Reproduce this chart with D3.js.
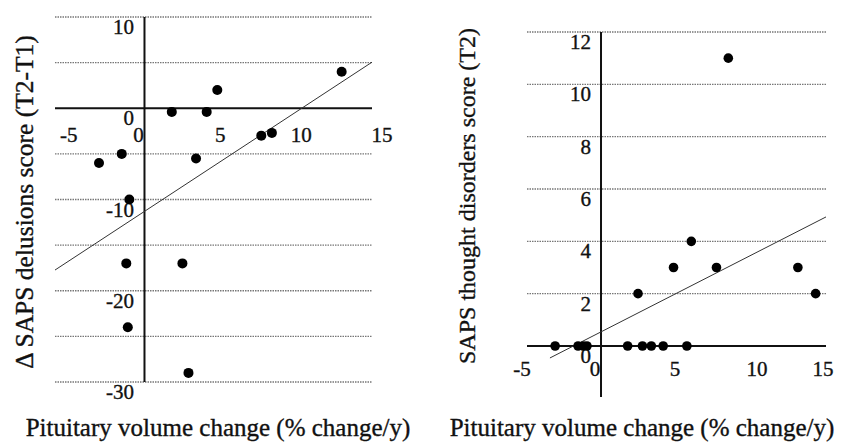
<!DOCTYPE html>
<html>
<head>
<meta charset="utf-8">
<script src="https://cdn.jsdelivr.net/npm/d3@7"></script>
<style>
  body { margin: 0; background: #fff; }
  text { font-family: "Liberation Serif", "DejaVu Serif", serif; fill: #111; stroke: #111; stroke-width: 0.35px; }
</style>
</head>
<body>
<script>
// left panel: change in delusions score
var leftX = [13.0, 4.8, 1.8, 4.1, 7.7, 8.4, 3.4, -1.5, -3.0, -1.0, -1.2, 2.5, -1.1, 2.9];
var leftY = [4, 2, -0.4, -0.4, -3, -2.7, -5.5, -5, -6, -10, -17, -17, -24, -29];
var leftFit = [-11.3, 1.09]; // intercept, slope
var leftGrid = [10, 5, -5, -10, -15, -20, -25, -30];
var leftYTicks = [10, 0, -10, -20, -30];

// right panel: thought disorders score
var rightX = [8.6, 6.1, 4.9, 7.8, 13.3, 2.5, 14.5, -3.1, -1.55, -1.2, -0.95, 1.8, 2.8, 3.4, 4.2, 5.8];
var rightY = [11, 4, 3, 3, 3, 2, 2, 0, 0, 0, 0, 0, 0, 0, 0, 0];
var rightFit = [0.54, 0.289];
var rightGrid = [12, 10, 8, 6, 4, 2];
var rightYTicks = [12, 10, 8, 6, 4, 2, 0];

var xTicks = [-5, 0, 5, 10, 15];

var w = 842, h = 447;

var svg = d3.select("body")
    .append("svg")
    .attr("width", w)
    .attr("height", h);

function panel(opt) {
    var g = svg.append("g");
    var x = d3.scaleLinear().domain(opt.xdom).range(opt.xr);
    var y = d3.scaleLinear().domain(opt.ydom).range(opt.yr);

    // gridlines
    g.selectAll("line.grid")
        .data(opt.grid)
        .enter()
        .append("line")
        .attr("class", "grid")
        .attr("x1", opt.xr[0])
        .attr("x2", opt.xr[1])
        .attr("y1", function(d) { return y(d); })
        .attr("y2", function(d) { return y(d); })
        .attr("stroke", "#777")
        .attr("stroke-width", 1.4)
        .attr("stroke-dasharray", "1.5,1");

    // x axis (at y = 0)
    g.append("line")
        .attr("x1", opt.xr[0]).attr("x2", opt.xr[1])
        .attr("y1", y(0)).attr("y2", y(0))
        .attr("stroke", "#111").attr("stroke-width", 2);

    // y axis (at x = 0)
    g.append("line")
        .attr("x1", x(0)).attr("x2", x(0))
        .attr("y1", opt.yr[1]).attr("y2", y(opt.yAxisEnd))
        .attr("stroke", "#111").attr("stroke-width", 2);

    // y tick labels
    g.selectAll("text.yt")
        .data(opt.yticks)
        .enter()
        .append("text")
        .attr("class", "yt")
        .attr("text-anchor", "end")
        .attr("font-size", "21px")
        .attr("x", opt.yLabelX)
        .attr("y", function(d) { return y(d) + 17; })
        .text(function(d) { return d; });

    // x tick labels
    g.selectAll("text.xt")
        .data(xTicks)
        .enter()
        .append("text")
        .attr("class", "xt")
        .attr("text-anchor", "middle")
        .attr("font-size", "21px")
        .attr("x", function(d) { return d === 0 ? x(d) - 6 : x(d) + opt.xLabelShift(d); })
        .attr("y", y(0) + opt.xLabelDy)
        .text(function(d) { return d; });

    // regression line
    var fit = opt.fit;
    g.append("line")
        .attr("x1", x(opt.fitFrom))
        .attr("y1", y(fit[0] + fit[1] * opt.fitFrom))
        .attr("x2", x(opt.fitTo))
        .attr("y2", y(fit[0] + fit[1] * opt.fitTo))
        .attr("stroke", "#333")
        .attr("stroke-width", 1);

    // points
    g.selectAll("circle")
        .data(opt.xs)
        .enter()
        .append("circle")
        .attr("cx", function(d) { return x(d); })
        .attr("cy", function(d, i) { return y(opt.ys[i]); })
        .attr("r", opt.r)
        .attr("fill", "#000");

    // axis titles
    svg.append("text")
        .attr("text-anchor", "middle")
        .attr("font-size", opt.yTitleSize)
        .attr("transform", "translate(" + opt.yTitlePos[0] + "," + opt.yTitlePos[1] + ") rotate(-90)")
        .text(opt.yTitle);

    svg.append("text")
        .attr("text-anchor", "middle")
        .attr("font-size", "25px")
        .attr("x", opt.xTitleX)
        .attr("y", 436)
        .text("Pituitary volume change (% change/y)");
}

panel({
    xs: leftX, ys: leftY, fit: leftFit,
    xdom: [-5.9, 15], xr: [55, 372],
    ydom: [-30, 10], yr: [382, 17],
    yAxisEnd: -30,
    grid: leftGrid, yticks: leftYTicks,
    yLabelX: 134, xLabelDy: 34,
    xLabelShift: function(d) { return d >= 10 ? (d - 5) : 0; },
    fitFrom: -5.9, fitTo: 15,
    r: 5,
    yTitle: "\u0394 SAPS delusions score (T2-T1)",
    yTitleSize: "25.5px",
    yTitlePos: [33, 202],
    xTitleX: 218
});

panel({
    xs: rightX, ys: rightY, fit: rightFit,
    xdom: [-5, 15.2], xr: [527, 826],
    ydom: [0, 12], yr: [346, 32],
    yAxisEnd: -1.95,
    grid: rightGrid, yticks: rightYTicks,
    yLabelX: 591, xLabelDy: 30,
    xLabelShift: function(d) { return d === -5 ? -5 : (d === 10 ? 8 : 0); },
    fitFrom: -3.45, fitTo: 15.2,
    r: 4.8,
    yTitle: "SAPS thought disorders score (T2)",
    yTitleSize: "24px",
    yTitlePos: [475, 196],
    xTitleX: 642
});
</script>
</body>
</html>
